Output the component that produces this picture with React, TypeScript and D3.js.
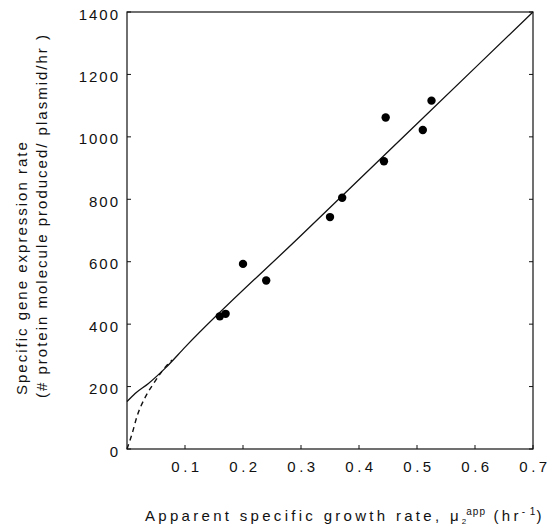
import React from "react";
import * as d3 from "d3";

const pointX = [0.16, 0.17, 0.2, 0.24, 0.35, 0.371, 0.443, 0.446, 0.51, 0.525];
const pointY = [425, 433, 593, 540, 743, 805, 922, 1062, 1022, 1116];

const fitX = [0, 0.014, 0.037, 0.066, 0.101, 0.3, 0.5, 0.7];
const fitY = [152, 178, 210, 259, 328, 684, 1042, 1400];

const dashX = [0, 0.009, 0.017, 0.032, 0.046, 0.06, 0.072, 0.078];
const dashY = [0, 50, 103, 168, 210, 248, 275, 285];

const xTicks = [0.1, 0.2, 0.3, 0.4, 0.5, 0.6, 0.7];
const yTicks = [0, 200, 400, 600, 800, 1000, 1200, 1400];

const W = 550;
const H = 531;
const L = 127, R = 533, T = 12, B = 449;

export default function App() {
  const x = d3.scaleLinear().domain([0, 0.7]).range([L, R]);
  const y = d3.scaleLinear().domain([0, 1400]).range([B, T]);
  const fitLine = d3
    .line<number>()
    .x((d, i) => x(fitX[i]))
    .y((d, i) => y(fitY[i]))
    .curve(d3.curveMonotoneX);
  const dashLine = d3
    .line<number>()
    .x((d, i) => x(dashX[i]))
    .y((d, i) => y(dashY[i]))
    .curve(d3.curveMonotoneX);
  const font = "'Liberation Sans', Arial, Helvetica, sans-serif";
  const tl = 4;
  return (
    <svg
      width={W}
      height={H}
      style={{ position: "absolute", left: 0, top: 0, background: "#fff" }}
      fontFamily={font}
    >
      <rect x={0} y={0} width={W} height={H} fill="#fff" />
      {/* frame */}
      <rect x={L} y={T} width={R - L} height={B - T} fill="none" stroke="#111" strokeWidth={1.2} />
      {/* y ticks */}
      {yTicks.map((t) => (
        <g key={"y" + t}>
          <line x1={L} x2={L + tl} y1={y(t)} y2={y(t)} stroke="#111" strokeWidth={1} />
          <line x1={R} x2={R - tl} y1={y(t)} y2={y(t)} stroke="#111" strokeWidth={1} />
          <text
            x={120}
            y={y(t) + 2}
            textAnchor="end"
            dominantBaseline="central"
            fontSize={15}
            letterSpacing={2}
            fill="#111"
          >
            {t}
          </text>
        </g>
      ))}
      {/* x ticks */}
      {xTicks.map((t) => (
        <g key={"x" + t}>
          <line x1={x(t)} x2={x(t)} y1={B} y2={B - tl} stroke="#111" strokeWidth={1} />
          <text
            x={x(t) + 2}
            y={472}
            textAnchor="middle"
            fontSize={15}
            letterSpacing={3.5}
            fill="#111"
          >
            {t.toFixed(1)}
          </text>
        </g>
      ))}
      {/* lines */}
      <path d={fitLine(fitX) || ""} fill="none" stroke="#111" strokeWidth={1.3} />
      <path
        d={dashLine(dashX) || ""}
        fill="none"
        stroke="#111"
        strokeWidth={1.4}
        strokeDasharray="5,4"
      />
      {/* points */}
      {pointX.map((px, i) => (
        <circle key={"p" + i} cx={x(px)} cy={y(pointY[i])} r={4.2} fill="#000" />
      ))}
      {/* y label */}
      <g transform="translate(27,395) rotate(-90)">
        <text x={0} y={0} fontSize={15} letterSpacing={2} fill="#111">
          Specific gene expression rate
        </text>
      </g>
      <g transform="translate(47,398) rotate(-90)">
        <text x={0} y={0} fontSize={15} letterSpacing={2} fill="#111">
          (# protein molecule produced/ plasmid/hr )
        </text>
      </g>
      {/* x label */}
      <text x={145} y={521} fontSize={15} letterSpacing={3.3} fill="#111">
        Apparent specific growth rate, μ
        <tspan fontSize={8} dy={3} letterSpacing={0}>2</tspan>
        <tspan fontSize={10} dy={-9} letterSpacing={1}>app</tspan>
        <tspan dy={6}> (hr</tspan>
        <tspan fontSize={10} dy={-6} letterSpacing={1}>- 1</tspan>
        <tspan dy={6}>)</tspan>
      </text>
    </svg>
  );
}
